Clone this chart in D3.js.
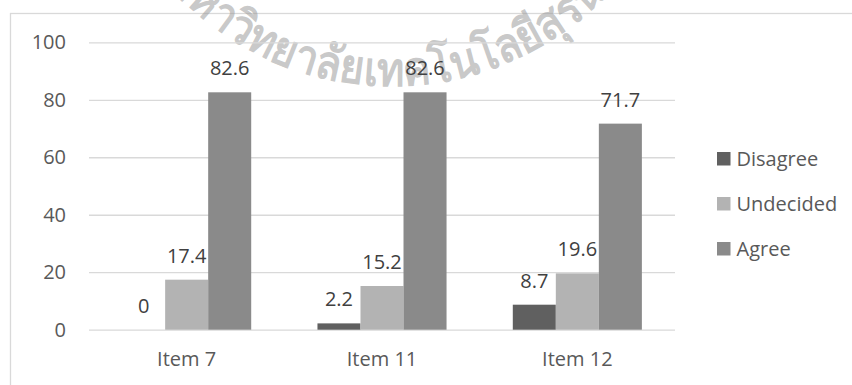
<!DOCTYPE html>
<html>
<head>
<meta charset="utf-8">
<script src="https://cdn.jsdelivr.net/npm/d3@7"></script>
<style>
  html, body { margin: 0; padding: 0; background: #fff; }
  svg { display: block; font-family: "Open Sans", "Noto Sans", sans-serif; }
</style>
</head>
<body>
<svg id="chart" width="852" height="385"></svg>
<script>
// Survey responses (%) per item
const items = ["Item 7", "Item 11", "Item 12"];
const seriesNames = ["Disagree", "Undecided", "Agree"];
const disagree = [0, 2.2, 8.7];
const undecided = [17.4, 15.2, 19.6];
const agree = [82.6, 82.6, 71.7];
const yTicks = [0, 20, 40, 60, 80, 100];
const seriesColors = ["#606060", "#b3b3b3", "#8a8a8a"];
const watermarkText = "มหาวิทยาลัยเทคโนโลยีสุรนารี";

const seriesValues = [disagree, undecided, agree];
const rows = items.map((item, i) => ({
  item,
  values: seriesNames.map((name, s) => ({ name, value: seriesValues[s][i] }))
}));

const svg = d3.select("#chart");
const W = 852, H = 385;
const plot = { left: 89, right: 675, top: 42.3, bottom: 329.7 };

// chart frame
svg.append("rect")
  .attr("x", 10.5).attr("y", 13.5)
  .attr("width", W + 20).attr("height", H + 20)
  .attr("fill", "#fff").attr("stroke", "#d9d9d9").attr("stroke-width", 1.3);

// faint institutional seal text along an arc
const wmCx = 392, wmCy = -214, wmR = 300;
const defs = svg.append("defs");
defs.append("path")
  .attr("id", "wmArc")
  .attr("d", `M ${wmCx - wmR} ${wmCy} A ${wmR} ${wmR} 0 0 0 ${wmCx + wmR} ${wmCy}`);
svg.append("text")
  .attr("font-size", 47)
  .attr("font-weight", "bold")
  .attr("fill", "#9a9a9a")
  .attr("fill-opacity", 0.55)
  .append("textPath")
  .attr("href", "#wmArc")
  .attr("startOffset", Math.PI * wmR / 2 + 14)
  .attr("text-anchor", "middle")
  .attr("textLength", 540)
  .attr("lengthAdjust", "spacingAndGlyphs")
  .text(watermarkText);

const x0 = d3.scaleBand().domain(items).range([plot.left, plot.right]).padding(0);
const x1 = d3.scaleBand().domain(seriesNames).range([0, x0.bandwidth()])
  .paddingInner(0).paddingOuter(0.77);
const y = d3.scaleLinear().domain([0, 100]).range([plot.bottom, plot.top]);
const color = d3.scaleOrdinal().domain(seriesNames).range(seriesColors);

// gridlines
const yAxis = d3.axisLeft(y).tickValues(yTicks).tickSize(-(plot.right - plot.left)).tickPadding(23);
const gy = svg.append("g").attr("transform", `translate(${plot.left},0)`).call(yAxis);
gy.select(".domain").remove();
gy.selectAll(".tick line").attr("stroke", "#d9d9d9").attr("stroke-width", 1.3);
gy.selectAll(".tick text")
  .attr("fill", "#595959").attr("font-size", 20)
  .attr("font-family", "Open Sans, sans-serif");

// bars
const groups = svg.append("g").selectAll("g").data(rows).join("g")
  .attr("transform", d => `translate(${x0(d.item)},0)`);
groups.selectAll("rect").data(d => d.values).join("rect")
  .attr("x", d => x1(d.name))
  .attr("width", x1.bandwidth())
  .attr("y", d => y(d.value))
  .attr("height", d => y(0) - y(d.value))
  .attr("fill", d => color(d.name));

// value labels
groups.selectAll("text").data(d => d.values).join("text")
  .attr("x", d => x1(d.name) + x1.bandwidth() / 2)
  .attr("y", d => y(d.value) - 17)
  .attr("text-anchor", "middle")
  .attr("font-size", 20)
  .attr("fill", "#404040")
  .text(d => d.value);

// category axis labels
const xAxis = d3.axisBottom(x0).tickSize(0).tickPadding(22);
const gx = svg.append("g").attr("transform", `translate(0,${plot.bottom})`).call(xAxis);
gx.select(".domain").remove();
gx.selectAll(".tick text")
  .attr("fill", "#595959").attr("font-size", 20)
  .attr("font-family", "Open Sans, sans-serif");

// legend
const legend = svg.append("g").attr("transform", "translate(717,0)");
const li = legend.selectAll("g").data(seriesNames).join("g")
  .attr("transform", (d, i) => `translate(0,${152 + i * 45})`);
li.append("rect").attr("width", 13.5).attr("height", 13.5).attr("fill", d => color(d));
li.append("text")
  .attr("x", 19.5).attr("y", 13.5)
  .attr("font-size", 20).attr("fill", "#595959")
  .text(d => d);
</script>
</body>
</html>
